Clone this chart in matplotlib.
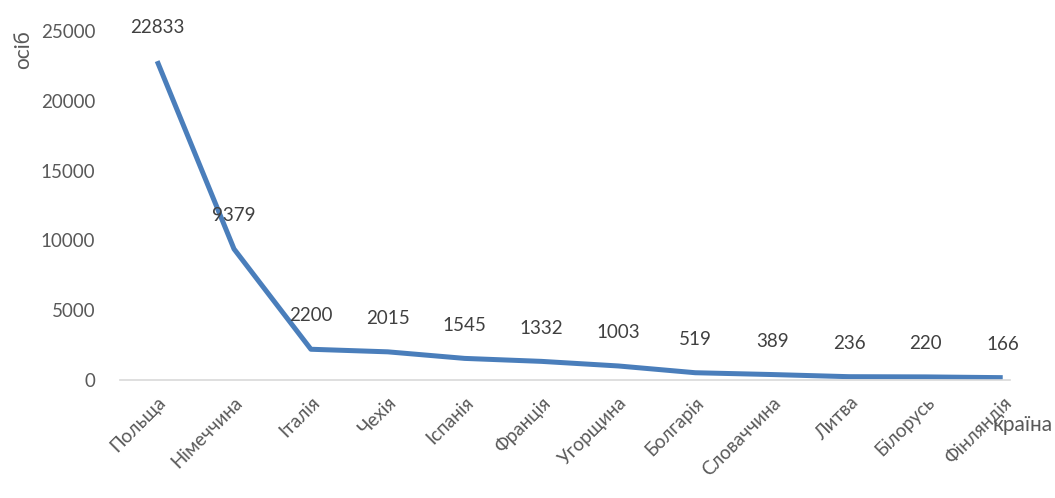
import matplotlib.pyplot as plt

plt.rcParams['font.family'] = ['Lato', 'DejaVu Sans']

countries = ['Польща', 'Німеччина', 'Італія', 'Чехія', 'Іспанія', 'Франція',
             'Угорщина', 'Болгарія', 'Словаччина', 'Литва', 'Білорусь', 'Фінляндія']
people = [22833, 9379, 2200, 2015, 1545, 1332, 1003, 519, 389, 236, 220, 166]
yticks = [0, 5000, 10000, 15000, 20000, 25000]

fig = plt.figure(figsize=(10.55, 4.98), dpi=100)
ax = fig.add_axes([0.114, 0.237, 0.843, 0.701])

x = list(range(len(countries)))
ax.plot(x, people, color='#4a7ebb', linewidth=3.6, solid_capstyle='butt')

# data labels above each point
for xi, v in zip(x, people):
    ax.annotate(str(v), (xi, v), xytext=(0, 24), textcoords='offset points',
                ha='center', va='center', fontsize=13.5, color='#404040')

ax.set_xlim(-0.48, 11.09)
ax.set_ylim(0, 25000)
ax.set_yticks(yticks)
ax.set_yticklabels([str(t) for t in yticks], fontsize=13.5, color='#595959')
ax.set_xticks(x)
ax.set_xticklabels(countries, rotation=45, ha='right', rotation_mode='anchor',
                   fontsize=13.5, color='#595959')
ax.tick_params(axis='both', length=0)
ax.tick_params(axis='y', pad=18)
ax.tick_params(axis='x', pad=10)

for s in ['top', 'right', 'left']:
    ax.spines[s].set_visible(False)
ax.spines['bottom'].set_color('#d9d9d9')
ax.spines['bottom'].set_linewidth(1.2)

fig.text(0.022, 0.90, 'осіб', rotation=90, ha='center', va='center',
         fontsize=15, color='#595959')
fig.text(0.998, 0.147, 'країна', ha='right', va='center',
         fontsize=15, color='#595959')

fig.savefig('out.png', dpi=100)
